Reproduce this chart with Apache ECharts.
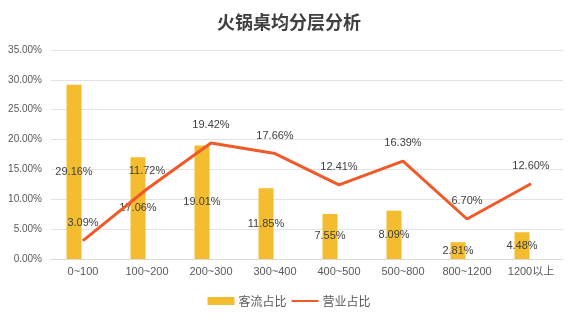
<!DOCTYPE html>
<html>
<head>
<meta charset="utf-8">
<script src="https://cdn.jsdelivr.net/npm/echarts@6/dist/echarts.min.js"></script>
<style>html,body{margin:0;padding:0;background:#fff}#c{width:578px;height:322px}</style>
</head>
<body>
<div id="c"></div>
<script>
const categories = ['0~100', '100~200', '200~300', '300~400', '400~500', '500~800', '800~1200', '1200以上'];
const trafficShare = [29.16, 17.06, 19.01, 11.85, 7.55, 8.09, 2.81, 4.48];
const revenueShare = [3.09, 11.72, 19.42, 17.66, 12.41, 16.39, 6.70, 12.60];
const yTicks = { min: 0, max: 35, interval: 5 };

const chart = echarts.init(document.getElementById('c'), null, { renderer: 'canvas' });
const font = '"Liberation Sans", "Noto Sans CJK SC", sans-serif';
const cjk = '"Noto Sans CJK SC", sans-serif';
chart.setOption({
  animation: false,
  backgroundColor: '#ffffff',
  title: {
    text: '火锅桌均分层分析',
    left: 'center',
    top: 8,
    textStyle: { fontSize: 18, fontWeight: 'bold', color: '#404040', fontFamily: cjk }
  },
  legend: {
    data: [
      { name: '客流占比', icon: 'rect' },
      { name: '营业占比', itemStyle: { opacity: 0 } }
    ],
    bottom: 10,
    left: 'center',
    itemWidth: 27,
    itemHeight: 8,
    itemGap: 4,
    textStyle: { fontSize: 12, color: '#595959', fontFamily: cjk, padding: [0, 0, 0, -1] }
  },
  grid: { left: 51, right: 15, top: 50, bottom: 63, containLabel: false },
  xAxis: {
    type: 'category',
    data: categories,
    axisTick: { show: false },
    axisLine: { lineStyle: { color: '#d9d9d9' } },
    axisLabel: { color: '#595959', fontSize: 11, margin: 7, interval: 0, fontFamily: font }
  },
  yAxis: {
    type: 'value',
    min: yTicks.min,
    max: yTicks.max,
    interval: yTicks.interval,
    axisLine: { show: false },
    axisTick: { show: false },
    splitLine: { lineStyle: { color: '#e3e3e3' } },
    axisLabel: { color: '#595959', fontSize: 10, margin: 9, fontFamily: font,
      formatter: v => v.toFixed(2) + '%' }
  },
  series: [
    {
      name: '客流占比',
      type: 'bar',
      data: trafficShare,
      barWidth: 15,
      barGap: '20%',
      itemStyle: { color: '#F4BD2F' },
      label: { show: true, position: 'inside', color: '#404040', fontSize: 11, fontFamily: font,
        formatter: p => p.value.toFixed(2) + '%' }
    },
    {
      name: 'spacer',
      type: 'bar',
      data: categories.map(() => '-'),
      barWidth: 15,
      barGap: '20%',
      silent: true
    },
    {
      name: '营业占比',
      type: 'line',
      data: revenueShare,
      symbol: 'circle',
      symbolSize: 1,
      showSymbol: true,
      lineStyle: { color: '#F05A28', width: 3 },
      itemStyle: { color: '#F05A28' },
      label: { show: true, position: 'top', distance: 12, color: '#404040', fontSize: 11, fontFamily: font,
        formatter: p => p.value.toFixed(2) + '%' }
    }
  ]
});
</script>
</body>
</html>
